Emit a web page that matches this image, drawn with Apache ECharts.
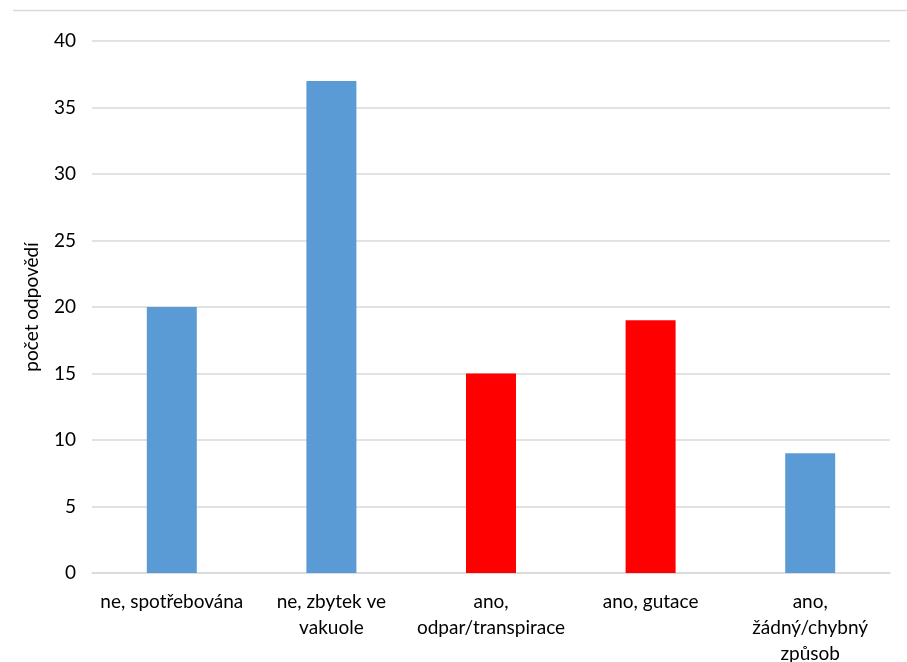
<!DOCTYPE html>
<html>
<head>
<meta charset="utf-8">
<script src="https://cdn.jsdelivr.net/npm/echarts@6/dist/echarts.min.js"></script>
<style>
  html, body { margin: 0; padding: 0; background: #fff; }
  #chart { width: 907px; height: 662px; }
</style>
</head>
<body>
<div id="chart"></div>
<script>
// Answer categories (line breaks as they wrap under the bars)
const categories = [
  'ne, spotřebována',
  'ne, zbytek ve\nvakuole',
  'ano,\nodpar/transpirace',
  'ano, gutace',
  'ano,\nžádný/chybný\nzpůsob'
];
// Number of answers per category
const counts = [20, 37, 15, 19, 9];
// Bar colours per category
const barColors = ['#5B9BD5', '#5B9BD5', '#FF0000', '#FF0000', '#5B9BD5'];
const yTicks = [0, 5, 10, 15, 20, 25, 30, 35, 40];

const font = 'Lato, "Open Sans", sans-serif';
const chart = echarts.init(document.getElementById('chart'), null, { renderer: 'canvas' });

chart.setOption({
  animation: false,
  textStyle: { fontFamily: font },
  grid: { left: 92, right: 17, top: 41, bottom: 89, outerBoundsMode: 'none', containLabel: false },
  graphic: [{
    type: 'line',
    shape: { x1: 13, y1: 10.5, x2: 907, y2: 10.5 },
    style: { stroke: '#d9d9d9', lineWidth: 1.5 }
  }],
  xAxis: {
    type: 'category',
    data: categories,
    axisTick: { show: false },
    axisLine: { lineStyle: { color: '#d9d9d9', width: 1.5 } },
    axisLabel: {
      color: '#000',
      fontSize: 19,
      fontFamily: font,
      lineHeight: 26,
      margin: 16,
      interval: 0,
      align: 'center'
    }
  },
  yAxis: {
    type: 'value',
    min: yTicks[0],
    max: yTicks[yTicks.length - 1],
    interval: 5,
    name: 'počet odpovědí',
    nameLocation: 'middle',
    nameGap: 51,
    nameRotate: 90,
    nameTextStyle: { color: '#000', fontSize: 19, fontFamily: font },
    axisLine: { show: false },
    axisTick: { show: false },
    splitLine: { lineStyle: { color: '#d9d9d9', width: 1.5 } },
    axisLabel: { color: '#000', fontSize: 19, fontFamily: font, margin: 16 }
  },
  series: [{
    type: 'bar',
    data: counts.map((v, i) => ({ value: v, itemStyle: { color: barColors[i] } })),
    barWidth: 50
  }]
});
</script>
</body>
</html>
